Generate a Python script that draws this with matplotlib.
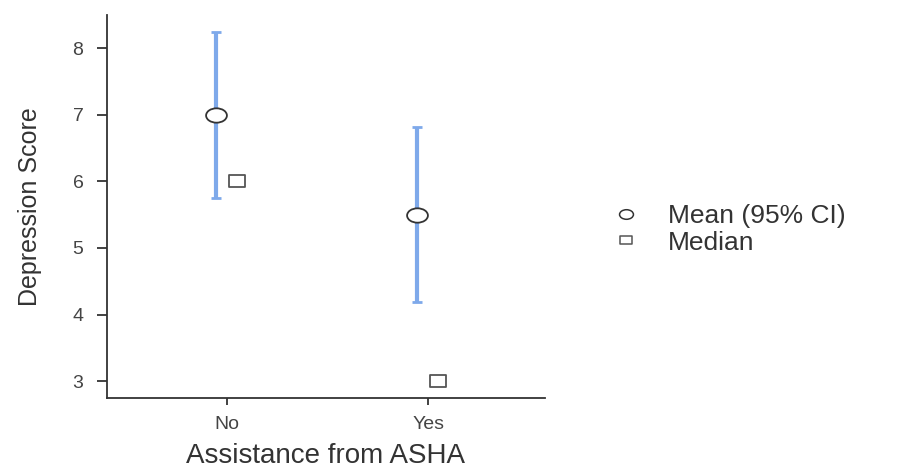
import numpy as np
import matplotlib.pyplot as plt
from matplotlib.path import Path
from matplotlib.transforms import Affine2D
from matplotlib.lines import Line2D

plt.rcParams['font.family'] = ['Liberation Sans', 'DejaVu Sans']

# data
groups = ['No', 'Yes']
means = [7.0, 5.5]
ci_low = [5.75, 4.19]
ci_high = [8.25, 6.82]
medians = [6.0, 3.0]

x = np.arange(len(groups))
err = [np.array(means) - np.array(ci_low), np.array(ci_high) - np.array(means)]

# wide markers (the reference is stretched horizontally)
oval = Path.unit_circle().transformed(Affine2D().scale(1.45, 1.0))
box = Path.unit_rectangle().transformed(Affine2D().translate(-0.5, -0.5).scale(1.5, 1.0))

fig = plt.figure(figsize=(9.24, 4.7), dpi=100)
ax = fig.add_axes([0.1158, 0.153, 0.474, 0.815])

ax.errorbar(x - 0.055, means, yerr=err, fmt='none', ecolor='#7ea9ea',
            elinewidth=3, capsize=3.5, capthick=2, zorder=2)
ax.plot(x - 0.055, means, linestyle='none', marker=oval, markersize=15,
        markerfacecolor='white', markeredgecolor='#333333', markeredgewidth=1.3, zorder=3)
ax.plot(x + 0.05, medians, linestyle='none', marker=box, markersize=12,
        markerfacecolor='white', markeredgecolor='#555555', markeredgewidth=1.3, zorder=3)

ax.set_xlim(-0.597, 1.58)
ax.set_ylim(2.745, 8.5)
ax.set_xticks(x)
ax.set_xticklabels(groups)
ax.set_yticks([3, 4, 5, 6, 7, 8])

for s in ['top', 'right']:
    ax.spines[s].set_visible(False)
for s in ['left', 'bottom']:
    ax.spines[s].set_color('#333333')
    ax.spines[s].set_linewidth(1.3)
ax.tick_params(colors='#333333', labelcolor='#444444', labelsize=14, width=1.3)
ax.tick_params(axis='y', length=7, pad=10)
ax.tick_params(axis='x', length=5, pad=8)

ax.set_ylabel('Depression Score', fontsize=18, color='#333333', labelpad=22)
ax.set_xlabel('Assistance from ASHA', fontsize=20, color='#333333', labelpad=7)

handles = [
    Line2D([], [], linestyle='none', marker=oval, markersize=10,
           markerfacecolor='white', markeredgecolor='#333333', markeredgewidth=1.1),
    Line2D([], [], linestyle='none', marker=box, markersize=9,
           markerfacecolor='white', markeredgecolor='#555555', markeredgewidth=1.1),
]
fig.legend(handles, ['Mean (95% CI)', 'Median'], loc='center left',
           bbox_to_anchor=(0.637, 0.512), frameon=False, fontsize=19,
           labelspacing=0.1, handletextpad=1.1, handlelength=1.0,
           labelcolor='#333333')

fig.savefig('out.png', dpi=100)
